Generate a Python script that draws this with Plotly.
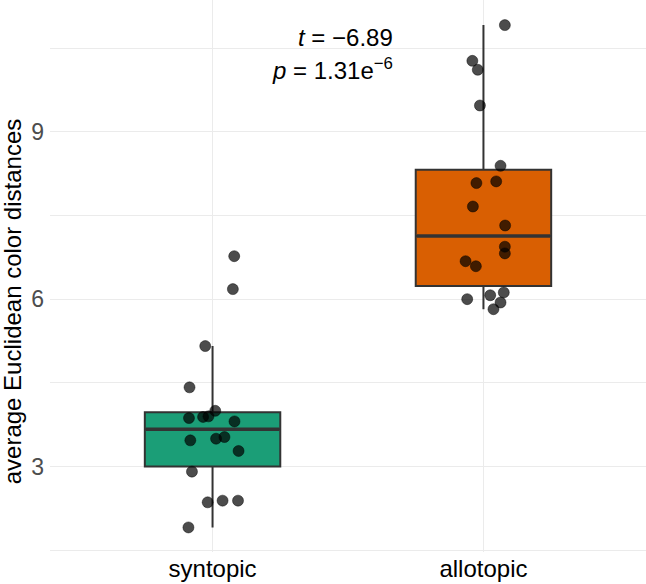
import numpy as np
import plotly.graph_objects as go

# ---- data ----
categories = ["syntopic", "allotopic"]
syntopic_values = [5.16, 4.42, 4.00, 3.87, 3.89, 3.90, 3.81, 3.47, 3.50, 3.53,
                   3.28, 2.91, 2.36, 2.39, 2.39, 1.91, 6.77, 6.18]
syntopic_jitter = [-0.027, -0.085, 0.010, -0.087, -0.035, -0.015, 0.081, -0.082, 0.013, 0.044,
                   0.096, -0.076, -0.018, 0.037, 0.094, -0.089, 0.080, 0.075]
allotopic_values = [10.91, 10.27, 10.11, 9.47, 8.39, 8.08, 8.11, 7.66, 7.32, 6.94,
                    6.82, 6.68, 6.59, 6.12, 6.07, 6.00, 5.94, 5.82]
allotopic_jitter = [0.079, -0.041, -0.021, -0.013, 0.063, -0.026, 0.047, -0.039, 0.080, 0.079,
                    0.079, -0.066, -0.028, 0.075, 0.025, -0.060, 0.063, 0.037]
box_colors = ["#1B9E77", "#D95F02"]
y_tick_vals = [3, 6, 9]
stat_t = "−6.89"
stat_p_mantissa = "1.31"
stat_p_exp = "−6"

FONT = "Liberation Sans, Arial, Helvetica, sans-serif"
BOX_WIDTH = 0.5

fig = go.Figure()
groups = [syntopic_values, allotopic_values]
jitters = [syntopic_jitter, allotopic_jitter]

for i, (vals, col) in enumerate(zip(groups, box_colors)):
    pos = i + 1
    v = np.asarray(vals)
    q1, med, q3 = np.percentile(v, [25, 50, 75])
    iqr = q3 - q1
    lf = v[v >= q1 - 1.5 * iqr].min()
    uf = v[v <= q3 + 1.5 * iqr].max()
    fig.add_trace(go.Box(
        x=[pos], q1=[q1], median=[med], q3=[q3], lowerfence=[lf], upperfence=[uf],
        width=BOX_WIDTH, whiskerwidth=0, boxpoints=False,
        fillcolor=col, line=dict(color="#333333", width=2),
        hoverinfo="skip", showlegend=False, name=categories[i],
    ))
    # thicker median bar (ggplot fatten)
    fig.add_trace(go.Scatter(
        x=[pos - BOX_WIDTH / 2 + 0.004, pos + BOX_WIDTH / 2 - 0.004], y=[med, med],
        mode="lines", line=dict(color="#333333", width=3.5),
        showlegend=False, hoverinfo="skip",
    ))

for i, (vals, jit) in enumerate(zip(groups, jitters)):
    pos = i + 1
    fig.add_trace(go.Scatter(
        x=[pos + j for j in jit], y=vals, mode="markers",
        marker=dict(color="rgba(0,0,0,0.7)", size=11,
                    line=dict(color="rgba(0,0,0,0.75)", width=0.6)),
        showlegend=False, hoverinfo="skip",
    ))

fig.add_annotation(x=1.674, y=10.69, xref="x", yref="y",
                   text=f"<i>t</i> = {stat_t}", showarrow=False,
                   xanchor="right", yanchor="middle",
                   font=dict(family=FONT, size=24, color="black"))
fig.add_annotation(x=1.674, y=10.13, xref="x", yref="y",
                   text=f"<i>p</i> = {stat_p_mantissa}e<sup>{stat_p_exp}</sup>", showarrow=False,
                   xanchor="right", yanchor="middle",
                   font=dict(family=FONT, size=24, color="black"))

# y-axis title (placed as rotated text to match reference position)
fig.add_annotation(x=-0.063, y=0.455, xref="paper", yref="paper",
                   text="average Euclidean color distances", textangle=-90,
                   showarrow=False, xanchor="center", yanchor="middle",
                   font=dict(family=FONT, size=24, color="black"))

fig.update_layout(
    width=646, height=584,
    margin=dict(l=50, r=0, t=0, b=32),
    plot_bgcolor="white", paper_bgcolor="white",
    font=dict(family=FONT),
    xaxis=dict(
        range=[0.4, 2.6], tickmode="array", tickvals=[1, 2], ticktext=categories,
        showgrid=True, gridcolor="#EBEBEB", gridwidth=1.3, zeroline=False,
        showline=False, ticks="", tickfont=dict(size=24, color="black"),
    ),
    yaxis=dict(
        range=[1.47, 11.36], tickmode="array", tickvals=y_tick_vals,
        showgrid=True, gridcolor="#EBEBEB", gridwidth=1.3, zeroline=False,
        showline=False, ticks="", tickfont=dict(size=23, color="#4D4D4D"),
        ticklabelstandoff=5,
        minor=dict(tick0=0, dtick=1.5, showgrid=True, gridcolor="#EBEBEB", gridwidth=1),
    ),
)

fig.write_html("out.html")
